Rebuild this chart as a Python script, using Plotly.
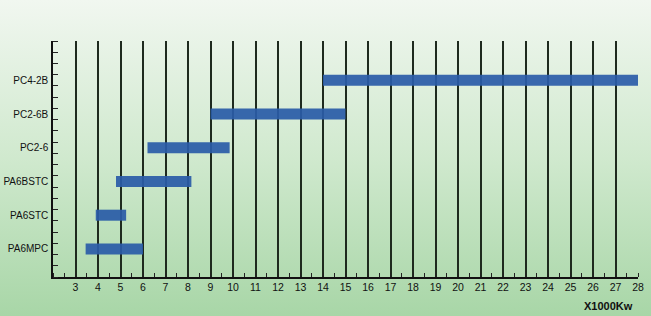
import plotly.graph_objects as go

categories = ["PA6MPC", "PA6STC", "PA6BSTC", "PC2-6", "PC2-6B", "PC4-2B"]
range_start = [3.45, 3.9, 4.8, 6.2, 9.0, 14.0]
range_end = [6.0, 5.25, 8.15, 9.85, 15.0, 28.0]
x_ticks = list(range(3, 29))
unit_label = "X1000Kw"

ypos = [2.5 + 3 * i for i in range(len(categories))]

svg = ("data:image/svg+xml;utf8,"
       "<svg xmlns='http://www.w3.org/2000/svg' width='651' height='316' preserveAspectRatio='none'>"
       "<defs><linearGradient id='g' x1='0' y1='0' x2='0' y2='1'>"
       "<stop offset='0' stop-color='%23f1f7f0'/>"
       "<stop offset='0.5' stop-color='%23d0e9ce'/>"
       "<stop offset='1' stop-color='%23a8d6a7'/>"
       "</linearGradient></defs>"
       "<rect width='651' height='316' fill='url(%23g)'/></svg>")

fig = go.Figure()
fig.add_trace(go.Bar(
    y=ypos,
    x=[e - s for s, e in zip(range_start, range_end)],
    base=range_start,
    orientation="h",
    width=0.98,
    marker=dict(color="#2a5ca8", line=dict(width=0)),
    opacity=0.92,
    hoverinfo="skip",
))

fig.update_layout(
    width=651, height=316,
    margin=dict(l=53, r=13, t=41, b=39),
    paper_bgcolor="rgba(0,0,0,0)",
    plot_bgcolor="rgba(0,0,0,0)",
    showlegend=False,
    font=dict(family="Liberation Sans, Arial, sans-serif", color="#111111"),
    images=[dict(source=svg, xref="paper", yref="paper", x=-53/585, y=1+41/236,
                 sizex=651/585, sizey=316/236, xanchor="left", yanchor="top",
                 sizing="stretch", layer="below")],
    xaxis=dict(
        range=[2, 28], tickmode="array", tickvals=x_ticks, automargin=False,
        ticks="", showgrid=True, gridcolor="#1e2a1e", gridwidth=1.5,
        showline=True, linecolor="#111111", linewidth=1.5,
        zeroline=False, tickfont=dict(size=10.5, color="#111111"),
        minor=dict(tickmode="linear", tick0=2, dtick=0.5, ticks="inside",
                   ticklen=4, tickcolor="#222222", tickwidth=1, showgrid=False),
        fixedrange=True,
    ),
    yaxis=dict(
        range=[0, 21], tickmode="array", tickvals=ypos, ticktext=categories,
        automargin=False,
        ticks="", showgrid=False, zeroline=False,
        showline=True, linecolor="#111111", linewidth=1.5,
        tickfont=dict(size=10, color="#111111"), ticklabelstandoff=1,
        minor=dict(tickmode="linear", tick0=0, dtick=1, ticks="inside",
                   ticklen=5, tickcolor="#222222", tickwidth=1, showgrid=False),
        fixedrange=True,
    ),
    annotations=[dict(text="<b>" + unit_label + "</b>", xref="paper", yref="paper",
                      x=1 - 3/585, y=-(305.7 - 277) / 236, xanchor="right", yanchor="middle",
                      showarrow=False, font=dict(size=11, color="#111111"))],
)

fig.write_html("out.html")
